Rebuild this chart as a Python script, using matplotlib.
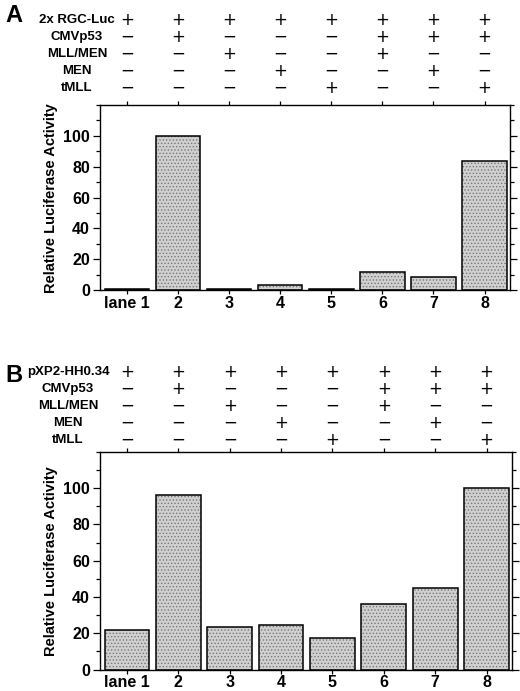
import numpy as np
import matplotlib
matplotlib.use('Agg')
import matplotlib.pyplot as plt
from matplotlib.ticker import MultipleLocator

plt.rcParams['font.family'] = ['Liberation Sans', 'DejaVu Sans']
plt.rcParams['hatch.linewidth'] = 0.6

lanes = ['lane 1', '2', '3', '4', '5', '6', '7', '8']
rows_a = ['2x RGC-Luc', 'CMVp53', 'MLL/MEN', 'MEN', 'tMLL']
rows_b = ['pXP2-HH0.34', 'CMVp53', 'MLL/MEN', 'MEN', 'tMLL']
# + / - per construct, one string per row (lanes 1..8)
signs = ['++++++++',
         '-+---+++',
         '--+--+--',
         '---+--+-',
         '----+--+']
vals_a = [0.6, 100, 0.6, 3.4, 0.6, 11.7, 8.8, 84]
vals_b = [21.7, 96, 23.4, 24.6, 17.6, 36, 45, 100]

fig = plt.figure(figsize=(5.2, 6.91), dpi=100)


def panel(ax_rect, vals, rows, letter, row_y, label_x, letter_y):
    ax = fig.add_axes(ax_rect)
    x = np.arange(1, 9)
    ax.bar(x, vals, width=0.87, color='#d0d0d0', edgecolor='#777777',
           hatch='.....', linewidth=0, zorder=2)
    ax.bar(x, vals, width=0.87, fill=False, edgecolor='black',
           linewidth=1.1, zorder=3)
    ax.set_xlim(0.47, 8.49)
    ax.set_ylim(0, 120)
    ax.set_xticks(x)
    ax.set_xticklabels(lanes, fontsize=11.5, fontweight='bold')
    ax.set_yticks([0, 20, 40, 60, 80, 100])
    ax.yaxis.set_minor_locator(MultipleLocator(10))
    ax.tick_params(axis='both', which='both', direction='out',
                   top=True, right=True, width=0.9)
    ax.tick_params(axis='y', which='major', length=5, labelsize=11.5, pad=2)
    ax.tick_params(axis='y', which='minor', length=3)
    ax.tick_params(axis='x', length=3, pad=1)
    for t in ax.get_yticklabels():
        t.set_fontweight('bold')
    for s in ax.spines.values():
        s.set_linewidth(1.0)
    ax.set_ylabel('Relative Luciferase Activity', fontsize=10.5,
                  fontweight='bold', labelpad=4)

    # +/- table above the plot
    for i, name in enumerate(rows):
        yf = 1 - row_y[i] / 691
        fig.text(label_x / 520, yf, name, ha='center', va='center',
                 fontsize=9.5, fontweight='bold')
        for j, ch in enumerate(signs[i]):
            xd = ax.transData.transform((j + 1, 0))[0]
            sym = '+' if ch == '+' else '\u2212'
            fig.text(xd / 520, yf, sym, ha='center', va='center',
                     fontsize=12, fontfamily='DejaVu Sans')
    fig.text(5 / 520, 1 - letter_y / 691, letter, ha='left', va='center',
             fontsize=17, fontweight='bold')
    return ax


panel([0.192, 0.580, 0.788, 0.268], vals_a, rows_a, 'A',
      [20, 37, 54, 71, 88], 77, 16)
panel([0.192, 0.031, 0.792, 0.315], vals_b, rows_b, 'B',
      [372, 389, 406, 423, 440], 68, 375)

fig.savefig('out.png', dpi=100)
